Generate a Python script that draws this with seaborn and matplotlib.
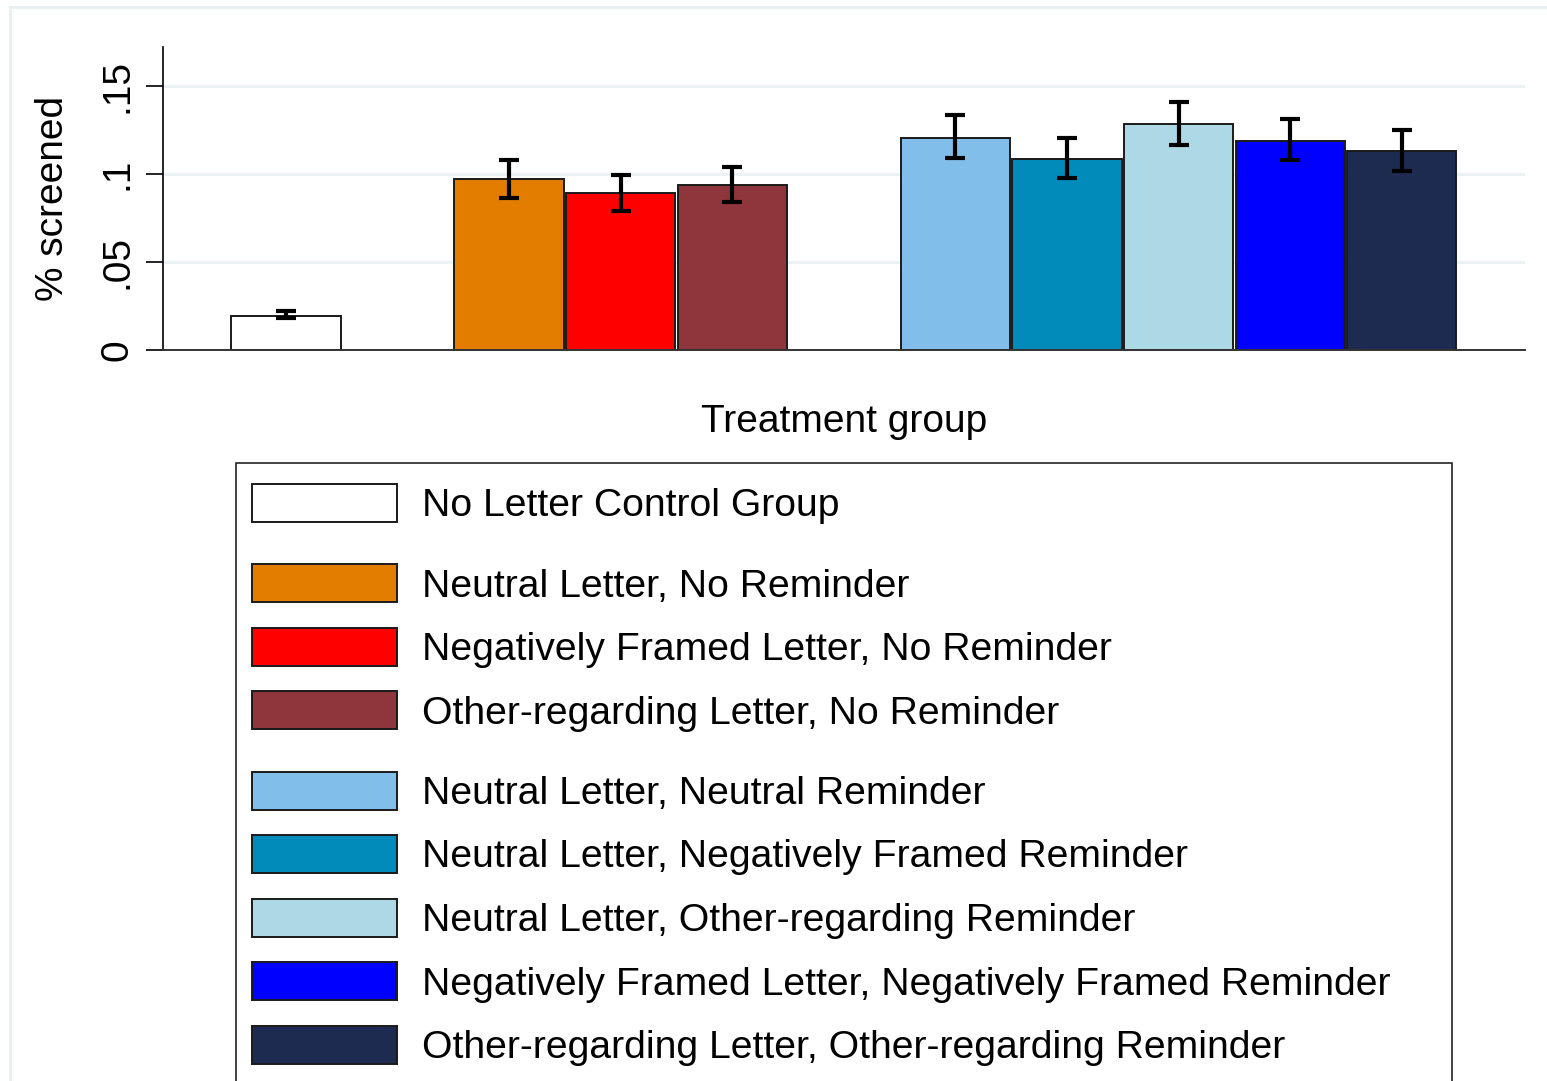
import numpy as np
import pandas as pd
import seaborn as sns
import matplotlib.pyplot as plt
from matplotlib.patches import Patch, Rectangle
from matplotlib.legend_handler import HandlerPatch

# Screening rates by treatment arm
labels = [
    "No Letter Control Group",
    "Neutral Letter, No Reminder",
    "Negatively Framed Letter, No Reminder",
    "Other-regarding Letter, No Reminder",
    "Neutral Letter, Neutral Reminder",
    "Neutral Letter, Negatively Framed Reminder",
    "Neutral Letter, Other-regarding Reminder",
    "Negatively Framed Letter, Negatively Framed Reminder",
    "Other-regarding Letter, Other-regarding Reminder",
]
group = [0, 1, 1, 1, 2, 2, 2, 2, 2]
share = [0.0195, 0.0972, 0.0890, 0.0937, 0.1203, 0.1087, 0.1284, 0.1189, 0.1131]
ci_low = [0.0182, 0.0866, 0.0792, 0.0838, 0.1090, 0.0976, 0.1165, 0.1078, 0.1017]
ci_high = [0.0222, 0.1079, 0.0994, 0.1041, 0.1335, 0.1202, 0.1407, 0.1312, 0.1250]
colors = ["#FFFFFF", "#E27D00", "#FF0000", "#8F353C", "#82BEEA",
          "#008BBB", "#ADD8E6", "#0000FF", "#1E2B50"]
y_ticks = [0, 0.05, 0.10, 0.15]
y_tick_labels = ["0", ".05", ".1", ".15"]

df = pd.DataFrame({"label": labels, "group": group, "share": share,
                   "low": ci_low, "high": ci_high})
# one empty slot between groups
df["pos"] = np.arange(len(df)) + df["group"]

sns.set_theme(style="white")
plt.rcParams["font.family"] = ["Liberation Sans", "DejaVu Sans"]
plt.rcParams["text.color"] = "black"
plt.rcParams["axes.labelcolor"] = "black"
plt.rcParams["xtick.color"] = "black"
plt.rcParams["ytick.color"] = "black"

W, H = 1547, 1081
fig = plt.figure(figsize=(W / 100, H / 100), dpi=100)
ax = fig.add_axes([162.7 / W, 1 - 350 / H, (1525 - 162.7) / W, (350 - 46.7) / H])

sns.barplot(
    data=df,
    x="pos",
    y="share",
    hue="label",
    hue_order=labels,
    palette=dict(zip(labels, colors)),
    native_scale=True,
    dodge=False,
    width=0.98,
    errorbar=None,
    saturation=1,
    edgecolor="#1a1a1a",
    linewidth=1.4,
    legend=False,
    ax=ax,
)

ax.errorbar(
    df["pos"],
    df["share"],
    yerr=[df["share"] - df["low"], df["high"] - df["share"]],
    fmt="none",
    ecolor="black",
    elinewidth=3,
    capsize=7.5,
    capthick=3,
    zorder=4,
)

ax.set_xlim(-1.105, 11.104)
ax.set_ylim(0, 0.1723)
ax.set_yticks(y_ticks)
ax.set_yticklabels(y_tick_labels)
ax.tick_params(axis="y", direction="out", length=12, width=1.2, pad=7.8,
               labelsize=28, labelrotation=90, left=True, colors="black")
for lbl in ax.get_yticklabels():
    lbl.set_va("center")
ax.tick_params(axis="x", bottom=False, labelbottom=False)

ax.yaxis.grid(True, color="#EAF2F3", linewidth=2.2)
ax.xaxis.grid(False)
ax.set_axisbelow(True)

sns.despine(ax=ax)
ax.spines["left"].set_color("black")
ax.spines["left"].set_linewidth(1.2)
ax.spines["bottom"].set_color("#333333")
ax.spines["bottom"].set_linewidth(1.4)

ax.set_xlabel("Treatment group", fontsize=28, color="black")
ax.xaxis.set_label_coords(0.5, -0.178)
ax.set_ylabel("% screened", fontsize=28, color="black")
ax.yaxis.set_label_coords(-0.0673, 0.5)


# extra room above the first entry of each group in the legend
class GapHandler(HandlerPatch):
    def __init__(self, gap, **kw):
        super().__init__(**kw)
        self.gap = gap

    def legend_artist(self, legend, orig_handle, fontsize, handlebox):
        artist = super().legend_artist(legend, orig_handle, fontsize, handlebox)
        handlebox.height += self.gap
        return artist


handles = [Patch(facecolor=c, edgecolor="#1a1a1a", linewidth=1.4) for c in colors]
handler_map = {}
for i in range(len(labels)):
    if i == 0:
        handler_map[handles[i]] = GapHandler(3.6)
    elif group[i] != group[i - 1]:
        handler_map[handles[i]] = GapHandler(12.0)

leg = fig.legend(
    handles,
    labels,
    handler_map=handler_map,
    loc="upper left",
    bbox_to_anchor=(236 / W, 1 - 463 / H, (1452 - 236) / W, 0),
    mode="expand",
    borderaxespad=0,
    borderpad=0.41,
    fontsize=28.2,
    handlelength=3.70,
    handleheight=1.12,
    handletextpad=0.65,
    labelspacing=0.592,
    fancybox=False,
    framealpha=1,
    edgecolor="#222222",
)
leg.get_frame().set_linewidth(1.2)
for t in leg.get_texts():
    t.set_color("black")

# faint outer border of the graph region
fig.add_artist(Rectangle((10 / W, -0.2), 1.2, 1.2 - 6.7 / H,
                         transform=fig.transFigure, fill=False,
                         edgecolor="#E8F0F2", linewidth=2.2, zorder=0))

fig.savefig("out.png", dpi=100)
